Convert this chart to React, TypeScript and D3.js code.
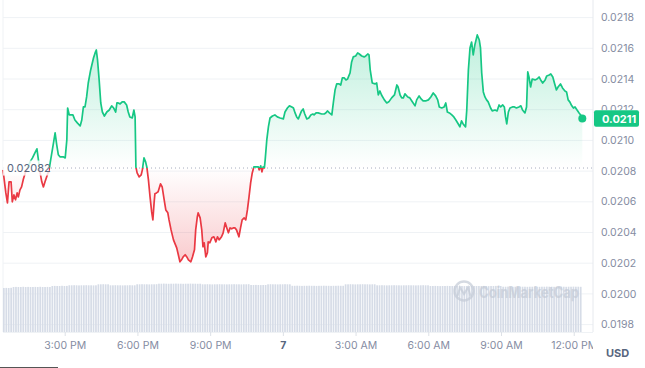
import React from "react";
import * as d3 from "d3";

const startTime = new Date(2024, 0, 6, 12, 26);
const baselinePrice = 0.02082;
const baselineLabel = "0.02082";
const currentPriceLabel = "0.0211";
const yTickValues = [0.0198, 0.02, 0.0202, 0.0204, 0.0206, 0.0208, 0.021, 0.0212, 0.0214, 0.0216, 0.0218];
const yTickLabels = ["0.0198", "0.0200", "0.0202", "0.0204", "0.0206", "0.0208", "0.0210", "0.0212", "0.0214", "0.0216", "0.0218"];
const xTickTimes = [
  new Date(2024, 0, 6, 15), new Date(2024, 0, 6, 18), new Date(2024, 0, 6, 21), new Date(2024, 0, 7, 0),
  new Date(2024, 0, 7, 3), new Date(2024, 0, 7, 6), new Date(2024, 0, 7, 9), new Date(2024, 0, 7, 12),
];
const xTickLabels = ["3:00 PM", "6:00 PM", "9:00 PM", "7", "3:00 AM", "6:00 AM", "9:00 AM", "12:00 PM"];

const minutesFromStart = [
  0, 7, 11, 15, 20, 23, 27, 31, 35, 38, 42, 46, 50, 55, 63, 67, 73, 79, 84, 87,
  92, 96, 100, 104, 108, 114, 118, 125, 129, 133, 137, 141, 149, 154, 158, 160, 164, 173, 178, 184,
  191, 195, 199, 203, 207, 211, 217, 224, 228, 231, 234, 238, 242, 246, 251, 257, 263, 269, 274, 279,
  282, 285, 290, 295, 300, 306, 310, 314, 320, 324, 327, 329, 332, 337, 342, 345, 349, 353, 356, 360,
  364, 368, 371, 374, 376, 380, 384, 390, 394, 399, 403, 408, 411, 416, 422, 430, 434, 438, 442, 446,
  451, 455, 459, 465, 469, 474, 477, 481, 483, 488, 492, 495, 498, 502, 506, 508, 512, 517, 522, 527,
  531, 535, 541, 545, 550, 554, 558, 562, 566, 570, 574, 578, 584, 588, 592, 597, 601, 605, 609, 613,
  617, 621, 628, 632, 634, 638, 641, 644, 647, 649, 653, 657, 661, 667, 673, 679, 686, 694, 698, 704,
  709, 715, 719, 723, 727, 731, 735, 739, 743, 747, 752, 757, 762, 767, 770, 775, 780, 789, 795, 799,
  803, 808, 814, 818, 822, 826, 832, 836, 840, 845, 849, 853, 856, 859, 863, 867, 873, 878, 882, 888,
  894, 898, 903, 906, 909, 914, 921, 925, 929, 933, 937, 944, 950, 955, 962, 969, 975, 978, 983, 987,
  991, 995, 1002, 1007, 1012, 1020, 1024, 1030, 1035, 1040, 1046, 1053, 1059, 1065, 1071, 1076, 1080, 1086, 1092, 1096,
  1100, 1105, 1111, 1116, 1121, 1127, 1131, 1135, 1139, 1145, 1148, 1152, 1156, 1160, 1164, 1168, 1174, 1179, 1182, 1185,
  1189, 1193, 1197, 1201, 1207, 1211, 1218, 1223, 1228, 1232, 1237, 1241, 1244, 1247, 1251, 1255, 1261, 1266, 1271, 1277,
  1282, 1286, 1292, 1296, 1299, 1302, 1306, 1310, 1317, 1322, 1327, 1331, 1336, 1342, 1346, 1352, 1356, 1361, 1365, 1370,
  1374, 1380, 1385, 1391, 1395, 1399, 1403, 1408, 1412, 1416, 1421, 1426, 1430, 1434,
];

const prices = [
  0.020808, 0.020658, 0.020593, 0.02073, 0.02073, 0.0206, 0.020645, 0.020613, 0.020658, 0.020632, 0.020678, 0.020697, 0.020743, 0.020788, 0.020834, 0.02086, 0.020886, 0.020919, 0.020945, 0.020886,
  0.020788, 0.02073, 0.020697, 0.02073, 0.020762, 0.020808, 0.020873, 0.020984, 0.021049, 0.020971, 0.020906, 0.020893, 0.020893, 0.020886, 0.021003, 0.021211, 0.021166, 0.021166, 0.021133, 0.021114,
  0.021094, 0.021133, 0.021218, 0.021218, 0.021283, 0.021374, 0.021459, 0.021537, 0.02157, 0.021589, 0.021524, 0.021394, 0.021244, 0.021185, 0.021159, 0.021185, 0.021198, 0.021225, 0.021211, 0.021185,
  0.021244, 0.021244, 0.021238, 0.021251, 0.021251, 0.021231, 0.021185, 0.021153, 0.021146, 0.021198, 0.021153, 0.020827, 0.020788, 0.020762, 0.020775, 0.020808, 0.020886, 0.02086, 0.020827, 0.020743,
  0.020632, 0.020534, 0.020482, 0.020593, 0.020652, 0.020658, 0.020665, 0.020717, 0.020697, 0.020613, 0.020547, 0.020528, 0.020482, 0.020417, 0.020352, 0.0203, 0.020255, 0.020209, 0.020222, 0.020241,
  0.020255, 0.020241, 0.020222, 0.020209, 0.020241, 0.020287, 0.020417, 0.020502, 0.020528, 0.020495, 0.020417, 0.020307, 0.020333, 0.020241, 0.020268, 0.020339, 0.020333, 0.020365, 0.020372, 0.020339,
  0.020372, 0.020352, 0.020372, 0.020398, 0.020463, 0.02043, 0.020398, 0.02043, 0.020424, 0.02043, 0.02043, 0.020417, 0.020372, 0.02043, 0.020482, 0.020495, 0.020482, 0.020547, 0.020632, 0.020723,
  0.020788, 0.020827, 0.020827, 0.020827, 0.020808, 0.020834, 0.020795, 0.020827, 0.020821, 0.020873, 0.021003, 0.021088, 0.021146, 0.021159, 0.021166, 0.021153, 0.021146, 0.02114, 0.021185, 0.021211,
  0.021225, 0.021218, 0.021211, 0.021179, 0.021153, 0.02114, 0.021166, 0.021192, 0.021205, 0.021172, 0.02114, 0.021146, 0.021166, 0.021172, 0.021166, 0.021179, 0.021179, 0.021172, 0.021172, 0.021179,
  0.021192, 0.021179, 0.021166, 0.021251, 0.021329, 0.021368, 0.021368, 0.021361, 0.021407, 0.021407, 0.021394, 0.0214, 0.02142, 0.021439, 0.021511, 0.021544, 0.02155, 0.02157, 0.021563, 0.02155,
  0.021544, 0.02155, 0.021563, 0.021557, 0.021459, 0.021374, 0.021368, 0.021374, 0.021296, 0.021322, 0.021296, 0.021264, 0.021244, 0.021251, 0.021277, 0.021296, 0.021361, 0.021348, 0.021296, 0.021277,
  0.021277, 0.021303, 0.021283, 0.021277, 0.021257, 0.021225, 0.021264, 0.02129, 0.02127, 0.021257, 0.021257, 0.021264, 0.021283, 0.021309, 0.02129, 0.021264, 0.021218, 0.021211, 0.021218, 0.021244,
  0.021185, 0.021179, 0.021166, 0.021153, 0.021133, 0.021107, 0.021088, 0.021127, 0.021107, 0.021088, 0.021198, 0.021459, 0.021602, 0.021641, 0.021557, 0.021622, 0.021687, 0.021654, 0.021602, 0.021439,
  0.021316, 0.021283, 0.021264, 0.021251, 0.021211, 0.021192, 0.021198, 0.021192, 0.021231, 0.021218, 0.021231, 0.021218, 0.021153, 0.021107, 0.021185, 0.021211, 0.021218, 0.021218, 0.021211, 0.021218,
  0.021225, 0.021198, 0.021179, 0.021218, 0.021446, 0.021413, 0.021348, 0.0214, 0.021394, 0.0214, 0.021413, 0.021394, 0.021374, 0.021394, 0.02142, 0.021426, 0.021433, 0.021413, 0.021374, 0.021329,
  0.021348, 0.021368, 0.021342, 0.021322, 0.021316, 0.021264, 0.021251, 0.021225, 0.021211, 0.021218, 0.021198, 0.021179, 0.021166, 0.021143,
];

const volumeIntervalMinutes = 6;
const volumes = [
  4.40, 4.41, 4.40, 4.42,
  4.50, 4.51, 4.50, 4.50, 4.52, 4.50, 4.51, 4.50, 4.50, 4.51, 4.50, 4.52, 4.50, 4.50, 4.51, 4.50,
  4.60, 4.61, 4.60, 4.60, 4.62, 4.60, 4.61,
  4.67, 4.67, 4.68, 4.67, 4.66, 4.67, 4.67, 4.68, 4.67, 4.67, 4.66, 4.67,
  4.77, 4.77, 4.78, 4.77, 4.77,
  4.67, 4.67, 4.68, 4.67, 4.67, 4.66, 4.67, 4.67, 4.68, 4.67, 4.67,
  4.77, 4.77, 4.78, 4.77, 4.77, 4.76, 4.77, 4.77, 4.78,
  4.83, 4.83, 4.84, 4.83, 4.82, 4.83, 4.83, 4.84, 4.83, 4.83, 4.82, 4.83, 4.83, 4.84, 4.83, 4.83, 4.82, 4.83,
  4.77, 4.77, 4.78, 4.77, 4.76, 4.77, 4.77, 4.78, 4.77, 4.77, 4.76, 4.77, 4.77, 4.78, 4.77, 4.77, 4.76, 4.77, 4.77, 4.78,
  4.70, 4.70, 4.71, 4.70, 4.69, 4.70, 4.70,
  4.77, 4.78, 4.77, 4.77, 4.76, 4.77, 4.77, 4.78, 4.77, 4.77,
  4.62, 4.62, 4.63, 4.62, 4.61, 4.62, 4.62, 4.63, 4.62, 4.62, 4.61, 4.62, 4.62, 4.63, 4.62, 4.62, 4.61, 4.62, 4.62, 4.63, 4.62, 4.62,
  4.77, 4.77, 4.78, 4.77, 4.76, 4.77, 4.77, 4.78, 4.77, 4.77, 4.76, 4.77, 4.77,
  4.67, 4.67, 4.68, 4.67, 4.66, 4.67, 4.67, 4.68, 4.67, 4.67, 4.66, 4.67, 4.67, 4.68, 4.67, 4.67, 4.66, 4.67, 4.67, 4.68, 4.67, 4.67,
  4.60, 4.60, 4.61, 4.60, 4.59, 4.60, 4.60, 4.61, 4.60, 4.60,
  4.60, 4.60, 4.61, 4.60, 4.59, 4.60, 4.60, 4.61, 4.60, 4.60,
  4.60, 4.60, 4.61, 4.60, 4.59, 4.60, 4.60, 4.61, 4.60, 4.60,
  4.53, 4.53, 4.54, 4.53, 4.52, 4.53, 4.53, 4.54, 4.53, 4.53, 4.52,
  4.53, 4.53, 4.54, 4.53, 4.52, 4.53, 4.53, 4.54, 4.53, 4.53, 4.52,
  4.53, 4.53, 4.54, 4.53, 4.52, 4.53, 4.53, 4.54, 4.53, 4.53, 4.52,
];

const GREEN = "#16c784";
const RED = "#ea3943";
const AXIS_TEXT = "#858ca2";
const GRID = "#eff2f5";
const FONT = "Inter, 'Noto Sans', sans-serif";

type Pt = { t: Date; p: number };

export default function App() {
  const W = 645;
  const H = 368;
  const plotLeft = 3;
  const plotRight = 593;
  const axisY = 332;

  const endTime = new Date(startTime.getTime() + minutesFromStart[minutesFromStart.length - 1] * 60000);
  const x = d3.scaleTime().domain([startTime, endTime]).range([3, 582.3]);
  const y = d3.scaleLinear().domain([0.0198, 0.0218]).range([324.6, 17.6]);
  const yv = d3.scaleLinear().domain([0, 5]).range([axisY, 282]);

  const data: Pt[] = minutesFromStart.map((m, i) => ({
    t: new Date(startTime.getTime() + m * 60000),
    p: prices[i],
  }));

  const by = y(baselinePrice);
  const line = d3.line<Pt>().x((d) => x(d.t)).y((d) => y(d.p));
  const area = d3.area<Pt>().x((d) => x(d.t)).y0(by).y1((d) => y(d.p));
  const linePath = line(data) || "";
  const areaPath = area(data) || "";

  const last = data[data.length - 1];
  const maxP = d3.max(prices) as number;
  const minP = d3.min(prices) as number;

  const lastY = y(last.p);
  const tagH = 16.6;
  const tagTop = lastY - tagH / 2;

  const barW = 1.7;

  return (
    <svg
      width={W}
      height={H}
      style={{ position: "absolute", left: 0, top: 0, background: "#fff" }}
      fontFamily={FONT}
    >
      <defs>
        <clipPath id="above">
          <rect x={0} y={0} width={W} height={by} />
        </clipPath>
        <clipPath id="below">
          <rect x={0} y={by} width={W} height={H - by} />
        </clipPath>
        <clipPath id="plot">
          <rect x={plotLeft} y={0} width={plotRight - plotLeft} height={H} />
        </clipPath>
        <clipPath id="aboveTag">
          <rect x={594} y={0} width={51} height={tagTop} />
        </clipPath>
        <linearGradient id="gGreen" gradientUnits="userSpaceOnUse" x1={0} x2={0} y1={y(maxP)} y2={by}>
          <stop offset="0" stopColor={GREEN} stopOpacity={0.28} />
          <stop offset="1" stopColor={GREEN} stopOpacity={0.0} />
        </linearGradient>
        <linearGradient id="gRed" gradientUnits="userSpaceOnUse" x1={0} x2={0} y1={by} y2={y(minP)}>
          <stop offset="0" stopColor={RED} stopOpacity={0.0} />
          <stop offset="1" stopColor={RED} stopOpacity={0.26} />
        </linearGradient>
      </defs>

      {/* grid */}
      {yTickValues.map((v, i) => (
        <line key={"g" + i} x1={plotLeft} x2={plotRight} y1={y(v)} y2={y(v)} stroke={GRID} strokeWidth={1} />
      ))}
      <line x1={plotLeft} x2={plotLeft} y1={0} y2={axisY} stroke={GRID} />
      <line x1={plotRight} x2={plotRight} y1={0} y2={axisY} stroke="#e6e9ee" />
      <line x1={plotLeft} x2={plotRight} y1={axisY + 0.5} y2={axisY + 0.5} stroke={GRID} />

      {/* volume bars */}
      <g>
        {volumes.map((v, i) => {
          const t = new Date(startTime.getTime() + i * volumeIntervalMinutes * 60000);
          const bx = x(t);
          return (
            <rect key={"v" + i} x={bx} y={yv(v)} width={barW} height={axisY - yv(v)} fill="#d6dce7" />
          );
        })}
      </g>

      {/* watermark */}
      <g opacity={0.7}>
        <circle cx={464} cy={291} r={9.5} fill="none" stroke="#c4cbd7" strokeWidth={2.4} />
        <path d="M457.5 296 L460 287.5 L464 294 L468 287.5 L470.5 296" fill="none" stroke="#c4cbd7" strokeWidth={2} />
        <text x={479} y={297.5} fontSize={16} fontWeight={700} fill="#c4cbd7" textLength={100} lengthAdjust="spacingAndGlyphs">
          CoinMarketCap
        </text>
      </g>

      {/* areas */}
      <path d={areaPath} fill="url(#gGreen)" clipPath="url(#above)" />
      <path d={areaPath} fill="url(#gRed)" clipPath="url(#below)" />

      {/* baseline */}
      <line x1={plotLeft} x2={plotRight} y1={by} y2={by} stroke="#a6adbd" strokeWidth={1} strokeDasharray="1 3" />

      {/* lines */}
      <path d={linePath} fill="none" stroke={GREEN} strokeWidth={1.7} strokeLinejoin="round" clipPath="url(#above)" />
      <path d={linePath} fill="none" stroke={RED} strokeWidth={1.7} strokeLinejoin="round" clipPath="url(#below)" />

      {/* baseline label */}
      <rect x={plotLeft} y={by - 7.5} width={46} height={15} fill="#ffffff" opacity={0.8} />
      <text x={7} y={by} dy="0.35em" fontSize={11} fill="#58667e">
        {baselineLabel}
      </text>

      {/* current point */}
      <circle cx={x(last.t)} cy={lastY} r={4} fill={GREEN} />

      {/* y axis labels */}
      {yTickValues.map((v, i) => {
        const ty = y(v);
        const hidden = Math.abs(ty - lastY) < 14;
        return (
          <text
            key={"yl" + i}
            x={601}
            y={ty}
            dy="0.35em"
            fontSize={10.5}
            fill={AXIS_TEXT}
            clipPath={hidden ? "url(#aboveTag)" : undefined}
          >
            {yTickLabels[i]}
          </text>
        );
      })}

      {/* price tag */}
      <rect x={594} y={tagTop} width={45} height={tagH} rx={2} fill={GREEN} />
      <text x={602} y={lastY + 0.5} dy="0.35em" fontSize={11} fontWeight={700} fill="#ffffff">
        {currentPriceLabel}
      </text>

      {/* x axis */}
      <g clipPath="url(#plot)">
        {xTickTimes.map((t, i) => (
          <g key={"xt" + i}>
            <line x1={x(t)} x2={x(t)} y1={axisY} y2={axisY + 4} stroke="#dde1e7" />
            <text
              x={x(t)}
              y={345}
              dy="0.35em"
              textAnchor="middle"
              fontSize={10.5}
              fontWeight={xTickLabels[i] === "7" ? 700 : 400}
              fill={xTickLabels[i] === "7" ? "#58667e" : AXIS_TEXT}
            >
              {xTickLabels[i]}
            </text>
          </g>
        ))}
      </g>

      <text x={606} y={353} dy="0.35em" fontSize={11} fontWeight={700} fill="#58667e">
        USD
      </text>

      <line x1={0} x2={58} y1={367.5} y2={367.5} stroke="#555" strokeWidth={1} />
    </svg>
  );
}
